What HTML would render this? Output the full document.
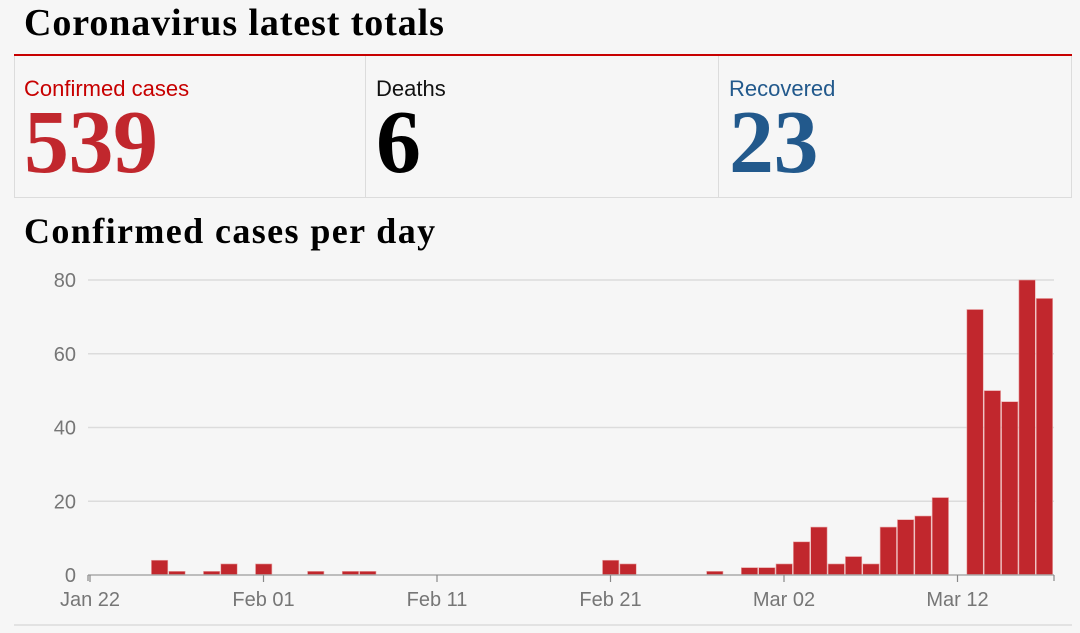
<!DOCTYPE html>
<html><head><meta charset="utf-8"><style>
body{margin:0;background:#f6f6f6;width:1080px;height:633px;overflow:hidden;font-family:"Liberation Sans",sans-serif;position:relative}
.t{position:absolute;font-family:"Liberation Serif",serif;font-weight:bold;color:#000;white-space:nowrap}
.box{position:absolute;top:56px;height:142px;border-right:1px solid #dcdcdc;box-sizing:border-box}
.lbl{position:absolute;left:10px;top:20px;font-size:22px}
.num{position:absolute;left:10px;top:42px;font-family:"Liberation Serif",serif;font-weight:bold;font-size:90px;letter-spacing:-0.5px;line-height:1}
</style></head><body>
<div class="t" style="left:24px;top:1px;font-size:38px;letter-spacing:0.9px">Coronavirus latest totals</div>
<div style="position:absolute;left:14px;top:54px;width:1058px;height:2px;background:#c70000"></div>
<div style="position:absolute;left:14px;top:56px;width:1058px;height:142px;border:1px solid #dcdcdc;border-top:none;box-sizing:border-box"></div>
<div class="box" style="left:14px;width:352px">
<div class="lbl" style="color:#c70000">Confirmed cases</div>
<div class="num" style="color:#c1272d">539</div></div>
<div class="box" style="left:366px;width:353px">
<div class="lbl" style="color:#121212">Deaths</div>
<div class="num" style="color:#000">6</div></div>
<div class="box" style="left:719px;width:353px;border-right:none">
<div class="lbl" style="color:#22598c">Recovered</div>
<div class="num" style="color:#22598c">23</div></div>
<div class="t" style="left:24px;top:210px;font-size:36px;letter-spacing:1.4px">Confirmed cases per day</div>
<svg id="chart" width="1080" height="633" style="position:absolute;left:0;top:0"></svg>
<script>
const values=[0,0,0,0,4,1,0,1,3,0,3,0,0,1,0,1,1,0,0,0,0,0,0,0,0,0,0,0,0,0,4,3,0,0,0,0,1,0,2,2,3,9,13,3,5,3,13,15,16,21,0,72,50,47,80,75];
const yTicks=[0,20,40,60,80];
const xTickLabels=["Jan 22","Feb 01","Feb 11","Feb 21","Mar 02","Mar 12"];
const xTickIndex=[0,10,20,30,40,50];
const svg=document.getElementById('chart');
const NS='http://www.w3.org/2000/svg';
const x=i=>90+17.35*i;
const y=v=>575-v*(295/80);
function mk(t,a){const e=document.createElementNS(NS,t);for(const k in a)e.setAttribute(k,a[k]);svg.appendChild(e);return e;}
yTicks.forEach(v=>{
 if(v>0){const l=mk('line',{x1:88,x2:1054,y1:y(v),y2:y(v),stroke:'#dcdcdc','stroke-width':1.5});
 
 }
 const t=mk('text',{x:76,y:y(v)+7,'text-anchor':'end','font-size':20,fill:'#767676','font-family':'Liberation Sans, sans-serif'});
 t.textContent=v;
 
 
});
values.forEach((v,i)=>{
 if(v<=0)return;
 const r=mk('rect',{x:x(i)-8,y:y(v),width:16.4,height:575-y(v),fill:'#c1272d',stroke:'#e9a9a9','stroke-width':0.6});
 
 
});
const ax=mk('line',{x1:88,x2:1054,y1:575,y2:575,stroke:'#aaa','stroke-width':1.5});


[88,1054].forEach(px=>{const e=mk('line',{x1:px,x2:px,y1:575,y2:581,stroke:'#888','stroke-width':1.2});

});
xTickIndex.forEach((d,k)=>{
 const tk=mk('line',{x1:x(d),x2:x(d),y1:575,y2:582,stroke:'#888','stroke-width':1.2});
 
 
 const t=mk('text',{x:x(d),y:606,'text-anchor':'middle','font-size':20,fill:'#767676','font-family':'Liberation Sans, sans-serif'});
 t.textContent=xTickLabels[k];
 
 
});
const b=mk('line',{x1:14,x2:1072,y1:625,y2:625,stroke:'#dcdcdc','stroke-width':1.5});


</script>
</body></html>
